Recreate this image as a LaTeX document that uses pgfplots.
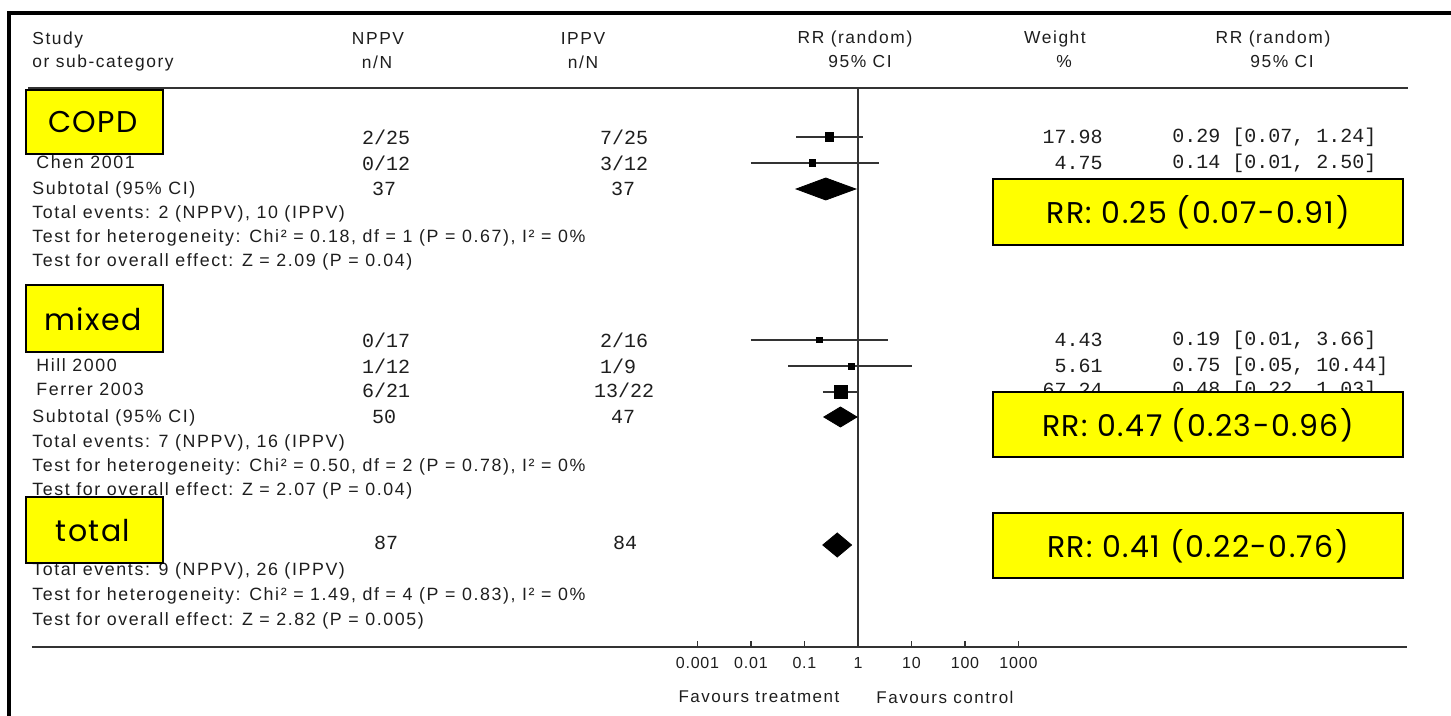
\documentclass[border=0pt]{standalone}
\usepackage{fontspec}
\setmainfont{Liberation Sans}
\newfontfamily\tbl[LetterSpace=9.0]{Liberation Sans}
\newfontfamily\tbh[LetterSpace=5.0]{Liberation Sans}
\newfontfamily\mono{Liberation Mono}
\newfontfamily\gothic[LetterSpace=5.0]{Poppins}
\usepackage{pgfplots}
\pgfplotsset{compat=1.18}
\definecolor{txt}{HTML}{1E1E1E}
\definecolor{hl}{HTML}{FFFF00}
\definecolor{ln}{HTML}{333333}
\newcommand\tx{\tbl\fontsize{8.9}{9}\selectfont}
\newcommand\fv{\tbl\fontsize{8.5}{9}\selectfont}
\newcommand\hd{\tbl\fontsize{8.7}{9}\selectfont}
\newcommand\tk{\tbh\fontsize{8}{9}\selectfont}
\newcommand\mn{\mono\fontsize{10}{11}\selectfont}
\newcommand\gb{\gothic\fontsize{15}{17}\selectfont}
\begin{document}
\begin{tikzpicture}[x=0.5pt,y=-0.5pt]
\useasboundingbox (0,0) rectangle (1451,716);
\fill[white] (0,0) rectangle (1451,716);
\begin{axis}[
  at={(16pt,-323.5pt)}, anchor=south west,
  width=687.5pt, height=279.5pt, scale only axis,
  xmode=log, xmin=3.64e-16, xmax=1.83e10,
  ymin=-647, ymax=-88,
  axis x line*=bottom, axis y line=none,
  axis line style={ln, line width=1pt},
  xtick={0.001,0.01,0.1,1,10,100,1000},
  xticklabels={0.001,0.01,0.1,1,10,100,1000},
  xminorticks=false,
  tick align=inside, major tick length=3pt,
  tick style={ln, line width=0.8pt},
  xticklabel style={font=\tk, text=txt, yshift=-1.5pt},
  clip=false,
]
% line of no effect
\addplot[ln, line width=0.9pt] coordinates {(1,-88) (1,-647)};
% confidence intervals
\addplot[ln, line width=1pt] coordinates {(0.07,-137) (1.24,-137)};
\addplot[ln, line width=1pt] coordinates {(0.01,-163) (2.50,-163)};
\addplot[ln, line width=1pt] coordinates {(0.01,-340) (3.66,-340)};
\addplot[ln, line width=1pt] coordinates {(0.05,-366) (10.44,-366)};
\addplot[ln, line width=1pt] coordinates {(0.22,-392) (1.03,-392)};
% point estimates
\addplot[only marks, mark=square*, mark size=2.1pt, black] coordinates {(0.29,-137)};
\addplot[only marks, mark=square*, mark size=1.6pt, black] coordinates {(0.14,-163)};
\addplot[only marks, mark=square*, mark size=1.4pt, black] coordinates {(0.19,-340)};
\addplot[only marks, mark=square*, mark size=1.5pt, black] coordinates {(0.75,-366)};
\addplot[only marks, mark=square*, mark size=3.2pt, black] coordinates {(0.48,-392)};
% pooled diamonds
\addplot[fill=black, draw=black] coordinates {(0.07,-189) (0.25,-178) (0.91,-189) (0.25,-200)} -- cycle;
\addplot[fill=black, draw=black] coordinates {(0.23,-417) (0.47,-407) (0.96,-417) (0.47,-427)} -- cycle;
\addplot[fill=black, draw=black] coordinates {(0.22,-545) (0.41,-533) (0.76,-545) (0.41,-557)} -- cycle;
\end{axis}
% frame
\draw[black, line width=2pt] (7,13) -- (1451,13);
\draw[black, line width=2pt] (9,11) -- (9,716);
\draw[ln, line width=0.9pt] (28,88) -- (1408,88);
\begin{scope}[every node/.style={inner sep=0pt, text=txt}]
% header
\node[anchor=mid west, font=\hd] at (32,39) {Study};
\node[anchor=mid west, font=\hd] at (32,62) {or sub-category};
\node[font=\hd] at (378,39) {NPPV};
\node[font=\hd] at (377,62) {n/N};
\node[font=\hd] at (583,39) {IPPV};
\node[font=\hd] at (583,62) {n/N};
\node[font=\hd] at (855,39) {RR (random)};
\node[font=\hd] at (860,62) {95\% CI};
\node[font=\hd] at (1055,39) {Weight};
\node[font=\hd] at (1064,62) {\%};
\node[font=\hd] at (1273,39) {RR (random)};
\node[font=\hd] at (1282,62) {95\% CI};
% COPD
\node[anchor=mid west, font=\tx] at (36,163) {Chen 2001};
\node[anchor=mid west, font=\tx] at (32,189) {Subtotal (95\% CI)};
\node[anchor=mid west, font=\tx] at (32,213) {Total events: 2 (NPPV), 10 (IPPV)};
\node[anchor=mid west, font=\tx] at (32,237) {Test for heterogeneity: Chi² = 0.18, df = 1 (P = 0.67), I² = 0\%};
\node[anchor=mid west, font=\tx] at (32,261) {Test for overall effect: Z = 2.09 (P = 0.04)};
\node[font=\mn] at (386,137) {2/25};
\node[font=\mn] at (386,163) {0/12};
\node[font=\mn] at (384,189) {37};
\node[font=\mn] at (624,137) {7/25};
\node[font=\mn] at (624,163) {3/12};
\node[font=\mn] at (623,189) {37};
\node[anchor=east, font=\mn] at (1103,137) {17.98};
\node[anchor=east, font=\mn] at (1103,163) {4.75};
\node[anchor=west, font=\mn] at (1172,137) {0.29 [0.07, 1.24]};
\node[anchor=west, font=\mn] at (1172,163) {0.14 [0.01, 2.50]};
% mixed
\node[anchor=mid west, font=\tx] at (36,366) {Hill 2000};
\node[anchor=mid west, font=\tx] at (36,390) {Ferrer 2003};
\node[anchor=mid west, font=\tx] at (32,417) {Subtotal (95\% CI)};
\node[anchor=mid west, font=\tx] at (32,442) {Total events: 7 (NPPV), 16 (IPPV)};
\node[anchor=mid west, font=\tx] at (32,466) {Test for heterogeneity: Chi² = 0.50, df = 2 (P = 0.78), I² = 0\%};
\node[anchor=mid west, font=\tx] at (32,490) {Test for overall effect: Z = 2.07 (P = 0.04)};
\node[font=\mn] at (386,340) {0/17};
\node[font=\mn] at (386,366) {1/12};
\node[font=\mn] at (386,390) {6/21};
\node[font=\mn] at (384,417) {50};
\node[font=\mn] at (624,340) {2/16};
\node[font=\mn] at (618,366) {1/9};
\node[font=\mn] at (624,390) {13/22};
\node[font=\mn] at (623,417) {47};
\node[anchor=east, font=\mn] at (1103,340) {4.43};
\node[anchor=east, font=\mn] at (1103,366) {5.61};
\node[anchor=east, font=\mn] at (1103,390) {67.24};
\node[anchor=west, font=\mn] at (1172,340) {0.19 [0.01, 3.66]};
\node[anchor=west, font=\mn] at (1172,366) {0.75 [0.05, 10.44]};
\node[anchor=west, font=\mn] at (1172,390) {0.48 [0.22, 1.03]};
% total
\node[anchor=mid west, font=\tx] at (32,570) {Total events: 9 (NPPV), 26 (IPPV)};
\node[anchor=mid west, font=\tx] at (32,595) {Test for heterogeneity: Chi² = 1.49, df = 4 (P = 0.83), I² = 0\%};
\node[anchor=mid west, font=\tx] at (32,620) {Test for overall effect: Z = 2.82 (P = 0.005)};
\node[font=\mn] at (386,543) {87};
\node[font=\mn] at (625,543) {84};
% favours
\node[font=\fv] at (759,697) {Favours treatment};
\node[font=\fv] at (945,697) {Favours control};
% highlight boxes
\draw[fill=hl, line width=1pt] (26,90) rectangle (163,154);
\node[font=\gb, text=black] at (93,122) {COPD};
\draw[fill=hl, line width=1pt] (26,285) rectangle (163,352);
\node[font=\gb, text=black] at (93,319) {mixed};
\draw[fill=hl, line width=1pt] (26,497) rectangle (163,563);
\node[font=\gb, text=black] at (93,531) {total};
\draw[fill=hl, line width=1pt] (993,179) rectangle (1403,245);
\node[font=\gb, text=black] at (1198,212) {RR: 0.25 (0.07-0.91)};
\draw[fill=hl, line width=1pt] (993,392) rectangle (1403,457);
\node[font=\gb, text=black] at (1198,425) {RR: 0.47 (0.23-0.96)};
\draw[fill=hl, line width=1pt] (993,513) rectangle (1403,578);
\node[font=\gb, text=black] at (1198,546) {RR: 0.41 (0.22-0.76)};
\end{scope}
\end{tikzpicture}
\end{document}
